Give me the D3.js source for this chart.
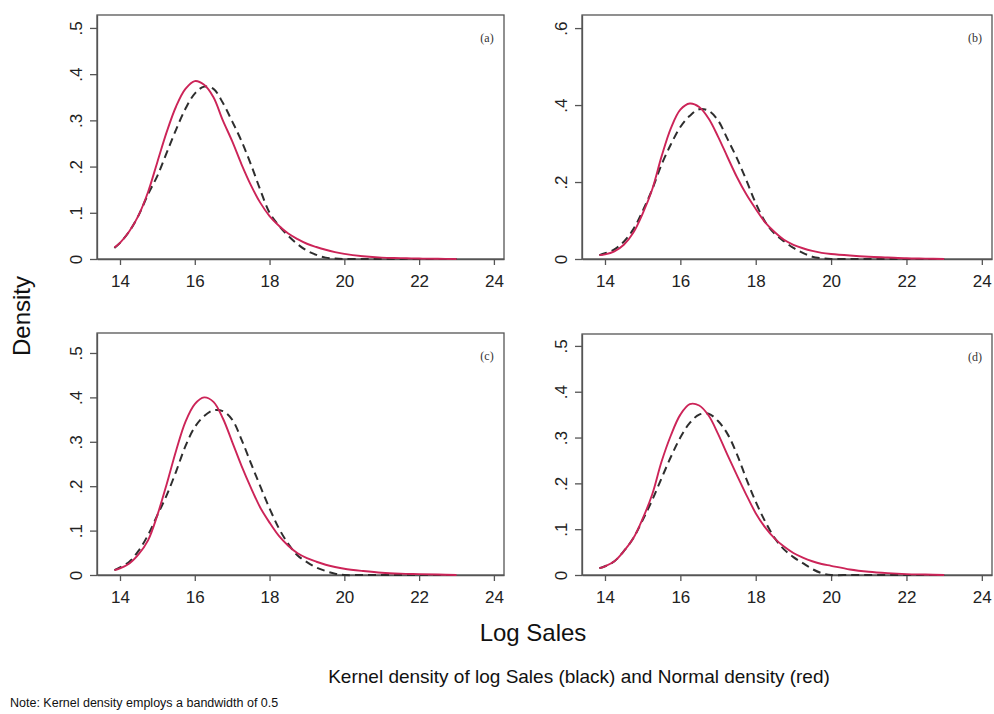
<!DOCTYPE html>
<html>
<head>
<meta charset="utf-8">
<script src="https://cdn.jsdelivr.net/npm/d3@7"></script>
<style>
  html, body { margin: 0; padding: 0; background: #fff; }
  svg { display: block; }
  text { font-family: "Liberation Sans", Arial, Helvetica, sans-serif; }
</style>
</head>
<body>
<svg id="chart" width="994" height="714"></svg>
<script>
// ---------- DATA ----------
const logSales = [13.85,14,14.25,14.5,14.75,15,15.25,15.5,15.75,16,16.25,16.5,16.75,17,17.25,17.5,17.75,18,18.25,18.5,18.75,19,19.25,19.5,19.75,20,20.5,21,21.5,22,22.5,23];

const panelLabels = ["(a)", "(b)", "(c)", "(d)"];
const xTicks = [14, 16, 18, 20, 22, 24];
const yTicksA = [0, 0.1, 0.2, 0.3, 0.4, 0.5];
const yTicksB = [0, 0.2, 0.4, 0.6];
const yTicksC = [0, 0.1, 0.2, 0.3, 0.4, 0.5];
const yTicksD = [0, 0.1, 0.2, 0.3, 0.4, 0.5];

// Normal density (red, solid)
const redA = [0.025,0.035,0.06,0.095,0.145,0.21,0.275,0.33,0.368,0.385,0.377,0.35,0.30,0.255,0.205,0.16,0.122,0.093,0.072,0.055,0.043,0.033,0.026,0.02,0.015,0.011,0.006,0.003,0.002,0.001,0.0005,0];
const redB = [0.010,0.012,0.020,0.037,0.068,0.118,0.18,0.266,0.34,0.388,0.404,0.395,0.365,0.318,0.265,0.213,0.168,0.13,0.095,0.07,0.05,0.037,0.028,0.021,0.016,0.013,0.009,0.006,0.004,0.002,0.001,0];
const redC = [0.011,0.015,0.026,0.047,0.078,0.135,0.205,0.28,0.345,0.385,0.40,0.39,0.353,0.30,0.246,0.197,0.152,0.118,0.088,0.066,0.049,0.038,0.03,0.023,0.018,0.014,0.009,0.005,0.003,0.002,0.001,0];
const redD = [0.015,0.019,0.03,0.052,0.08,0.123,0.175,0.247,0.305,0.35,0.373,0.37,0.348,0.308,0.262,0.218,0.175,0.135,0.104,0.08,0.062,0.048,0.038,0.03,0.024,0.02,0.012,0.007,0.004,0.002,0.001,0];

// Kernel density (black, dashed)
const blackA = [0.024,0.035,0.06,0.095,0.14,0.18,0.23,0.28,0.325,0.358,0.373,0.368,0.338,0.298,0.255,0.205,0.15,0.10,0.072,0.05,0.032,0.018,0.009,0.003,0.001,0,0,0,0,0,0,0];
const blackB = [0.010,0.015,0.025,0.045,0.077,0.125,0.18,0.245,0.298,0.343,0.372,0.389,0.385,0.36,0.312,0.262,0.205,0.145,0.097,0.066,0.046,0.029,0.016,0.006,0.002,0,0,0,0,0,0,0];
const blackC = [0.011,0.017,0.03,0.055,0.09,0.135,0.18,0.233,0.29,0.333,0.358,0.371,0.369,0.35,0.305,0.252,0.20,0.15,0.105,0.07,0.044,0.029,0.017,0.009,0.003,0,0,0,0,0,0,0];
const blackD = [0.015,0.019,0.03,0.052,0.08,0.12,0.163,0.211,0.258,0.30,0.332,0.35,0.352,0.336,0.308,0.264,0.21,0.16,0.117,0.081,0.056,0.039,0.026,0.013,0.004,0,0,0,0,0,0,0];

// ---------- LAYOUT ----------
const panels = [
  { label: panelLabels[0], red: redA, black: blackA, yTicks: yTicksA, yMax: 0.528, xDom: [13.385, 24.27], box: { l: 97,  t: 15,  r: 504, b: 259 } },
  { label: panelLabels[1], red: redB, black: blackB, yTicks: yTicksB, yMax: 0.634, xDom: [13.39, 24.27],  box: { l: 582, t: 15,  r: 992, b: 259 } },
  { label: panelLabels[2], red: redC, black: blackC, yTicks: yTicksC, yMax: 0.545, xDom: [13.385, 24.27], box: { l: 97,  t: 333, r: 504, b: 575 } },
  { label: panelLabels[3], red: redD, black: blackD, yTicks: yTicksD, yMax: 0.526, xDom: [13.39, 24.27],  box: { l: 582, t: 334, r: 992, b: 575 } }
];

const svg = d3.select("#chart");
svg.append("rect").attr("width", 994).attr("height", 714).attr("fill", "#fff");

const frameColor = "#555";
const fmtY = d => d === 0 ? "0" : d3.format(".1f")(d).replace(/^0/, "");

panels.forEach(p => {
  const B = p.box;
  const x = d3.scaleLinear().domain(p.xDom).range([B.l, B.r]);
  const y = d3.scaleLinear().domain([0, p.yMax]).range([B.b, B.t]);
  const g = svg.append("g");

  // frame
  g.append("rect")
    .attr("x", B.l).attr("y", B.t)
    .attr("width", B.r - B.l).attr("height", B.b - B.t)
    .attr("fill", "none").attr("stroke", frameColor).attr("stroke-width", 1.3);

  // x axis
  const xAxis = d3.axisBottom(x).tickValues(xTicks).tickSize(6).tickSizeOuter(0).tickPadding(0).tickFormat(d3.format("d"));
  const gx = g.append("g").attr("transform", `translate(0,${B.b})`).call(xAxis);
  gx.select(".domain").attr("stroke", frameColor).attr("stroke-width", 1.3);
  gx.selectAll(".tick line").attr("stroke", frameColor).attr("stroke-width", 1.3);
  gx.selectAll(".tick text")
    .attr("y", 28).attr("dy", 0)
    .attr("font-size", 17).attr("fill", "#222")
    .style("font-family", '"Liberation Sans", Arial, sans-serif');

  // y axis
  const yAxis = d3.axisLeft(y).tickValues(p.yTicks).tickSize(7).tickSizeOuter(0).tickFormat(fmtY);
  const gy = g.append("g").attr("transform", `translate(${B.l},0)`).call(yAxis);
  gy.select(".domain").attr("stroke", frameColor).attr("stroke-width", 1.3);
  gy.selectAll(".tick line").attr("stroke", frameColor).attr("stroke-width", 1.3);
  gy.selectAll(".tick text")
    .attr("x", null).attr("dy", null)
    .attr("transform", "translate(-15,0) rotate(-90)")
    .attr("text-anchor", "middle")
    .attr("font-size", 17).attr("fill", "#222")
    .style("font-family", '"Liberation Sans", Arial, sans-serif');

  const pts = logSales.map((v, i) => ({ x: v, r: p.red[i], k: p.black[i] }));

  const lineK = d3.line().x(d => x(d.x)).y(d => Math.min(y(d.k), B.b)).curve(d3.curveCatmullRom.alpha(0.5));
  const lineR = d3.line().x(d => x(d.x)).y(d => Math.min(y(d.r), B.b)).curve(d3.curveCatmullRom.alpha(0.5));

  g.append("path").datum(pts).attr("d", lineK)
    .attr("fill", "none").attr("stroke", "#2e2e2e").attr("stroke-width", 2)
    .attr("stroke-dasharray", "8,5");
  g.append("path").datum(pts).attr("d", lineR)
    .attr("fill", "none").attr("stroke", "#cc2458").attr("stroke-width", 1.9);

  // panel label
  g.append("text")
    .attr("x", B.r - 17).attr("y", B.t + 27)
    .attr("text-anchor", "middle")
    .attr("font-size", 12).attr("fill", "#333")
    .style("font-family", '"Liberation Serif", "Times New Roman", serif')
    .text(p.label);
});

// axis titles and notes
svg.append("text")
  .attr("transform", "translate(30,316) rotate(-90)")
  .attr("text-anchor", "middle")
  .attr("font-size", 24).attr("fill", "#111")
  .text("Density");

svg.append("text")
  .attr("x", 533).attr("y", 641)
  .attr("text-anchor", "middle")
  .attr("font-size", 24).attr("fill", "#111")
  .text("Log Sales");

svg.append("text")
  .attr("x", 579).attr("y", 683)
  .attr("text-anchor", "middle")
  .attr("font-size", 19).attr("fill", "#111")
  .text("Kernel density of log Sales (black) and Normal density (red)");

svg.append("text")
  .attr("x", 10).attr("y", 707)
  .attr("font-size", 12.5).attr("fill", "#111")
  .text("Note: Kernel density employs a bandwidth of 0.5");
</script>
</body>
</html>
